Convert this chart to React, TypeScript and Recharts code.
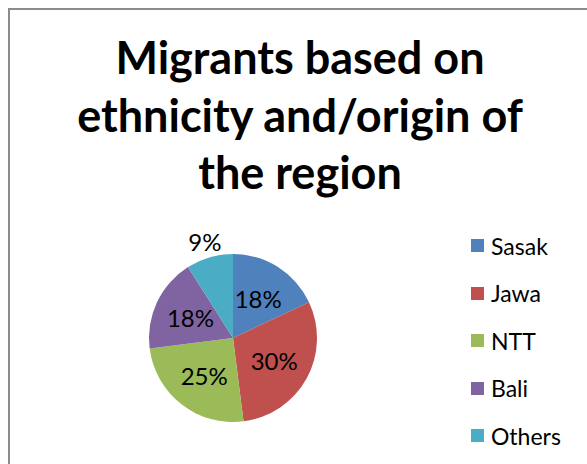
import { PieChart, Pie, Cell, Legend } from "recharts"

const categories = ["Sasak", "Jawa", "NTT", "Bali", "Others"]
const shares = [18, 30, 25, 18, 9]
const colors = ["#4F81BD", "#C0504D", "#9BBB59", "#8064A2", "#4BACC6"]
const titleLines = ["Migrants based on", "ethnicity and/origin of", "the region"]

const data = categories.map((name, i) => ({ name, value: shares[i] }))

const FONT = "Lato, 'Noto Sans', sans-serif"
const RAD = Math.PI / 180

// Excel "best fit": big slices get the label inside, small ones outside
function renderLabel(props: any) {
  const { cx, cy, midAngle, outerRadius, percent } = props
  const inside = percent >= 0.1
  const r = inside ? outerRadius * 0.56 : outerRadius + 17
  const x = cx + r * Math.cos(-midAngle * RAD)
  const y = cy + r * Math.sin(-midAngle * RAD)
  return (
    <text
      x={x}
      y={y}
      fill="#000"
      textAnchor="middle"
      dominantBaseline="central"
      style={{ fontFamily: FONT, fontSize: 24 }}
    >
      {`${Math.round(percent * 100)}%`}
    </text>
  )
}

// legend keeps the series order (recharts would sort it by name)
function renderLegend() {
  return (
    <div>
      {categories.map((name, index) => (
        <div key={`item-${name}`} style={{ display: "flex", alignItems: "center", height: 47.5 }}>
          <span style={{ width: 13, height: 13, background: colors[index], display: "inline-block", marginRight: 7 }} />
          <span style={{ fontFamily: FONT, fontSize: 23, color: "#000" }}>{name}</span>
        </div>
      ))}
    </div>
  )
}

export default function App() {
  return (
    <div style={{ position: "absolute", left: 0, top: 0, width: 587, height: 464, overflow: "hidden", background: "#fff" }}>
      <div
        style={{
          position: "absolute",
          left: 8,
          top: 8,
          width: 620,
          height: 500,
          borderLeft: "2px solid #8c8c8c",
          borderTop: "2px solid #8c8c8c",
        }}
      />
      <div
        style={{
          position: "absolute",
          left: 100,
          width: 400,
          top: 29,
          textAlign: "center",
          fontFamily: FONT,
          fontWeight: 700,
          fontSize: 45,
          lineHeight: "57.5px",
          color: "#000",
        }}
      >
        {titleLines.map((line) => (
          <div key={line} style={{ whiteSpace: "nowrap", marginLeft: -100, marginRight: -100 }}>
            {line}
          </div>
        ))}
      </div>
      <PieChart width={587} height={464} style={{ position: "absolute", left: 0, top: 0 }}>
        <Pie
          data={data}
          dataKey="value"
          nameKey="name"
          cx={228}
          cy={333}
          outerRadius={84}
          startAngle={90}
          endAngle={-270}
          stroke="none"
          label={renderLabel}
          labelLine={false}
          isAnimationActive={false}
        >
          {data.map((entry, index) => (
            <Cell key={`cell-${entry.name}`} fill={colors[index]} />
          ))}
        </Pie>
        <Legend
          layout="vertical"
          content={renderLegend}
          wrapperStyle={{ left: 471, top: 222, width: 120 }}
        />
      </PieChart>
    </div>
  )
}
